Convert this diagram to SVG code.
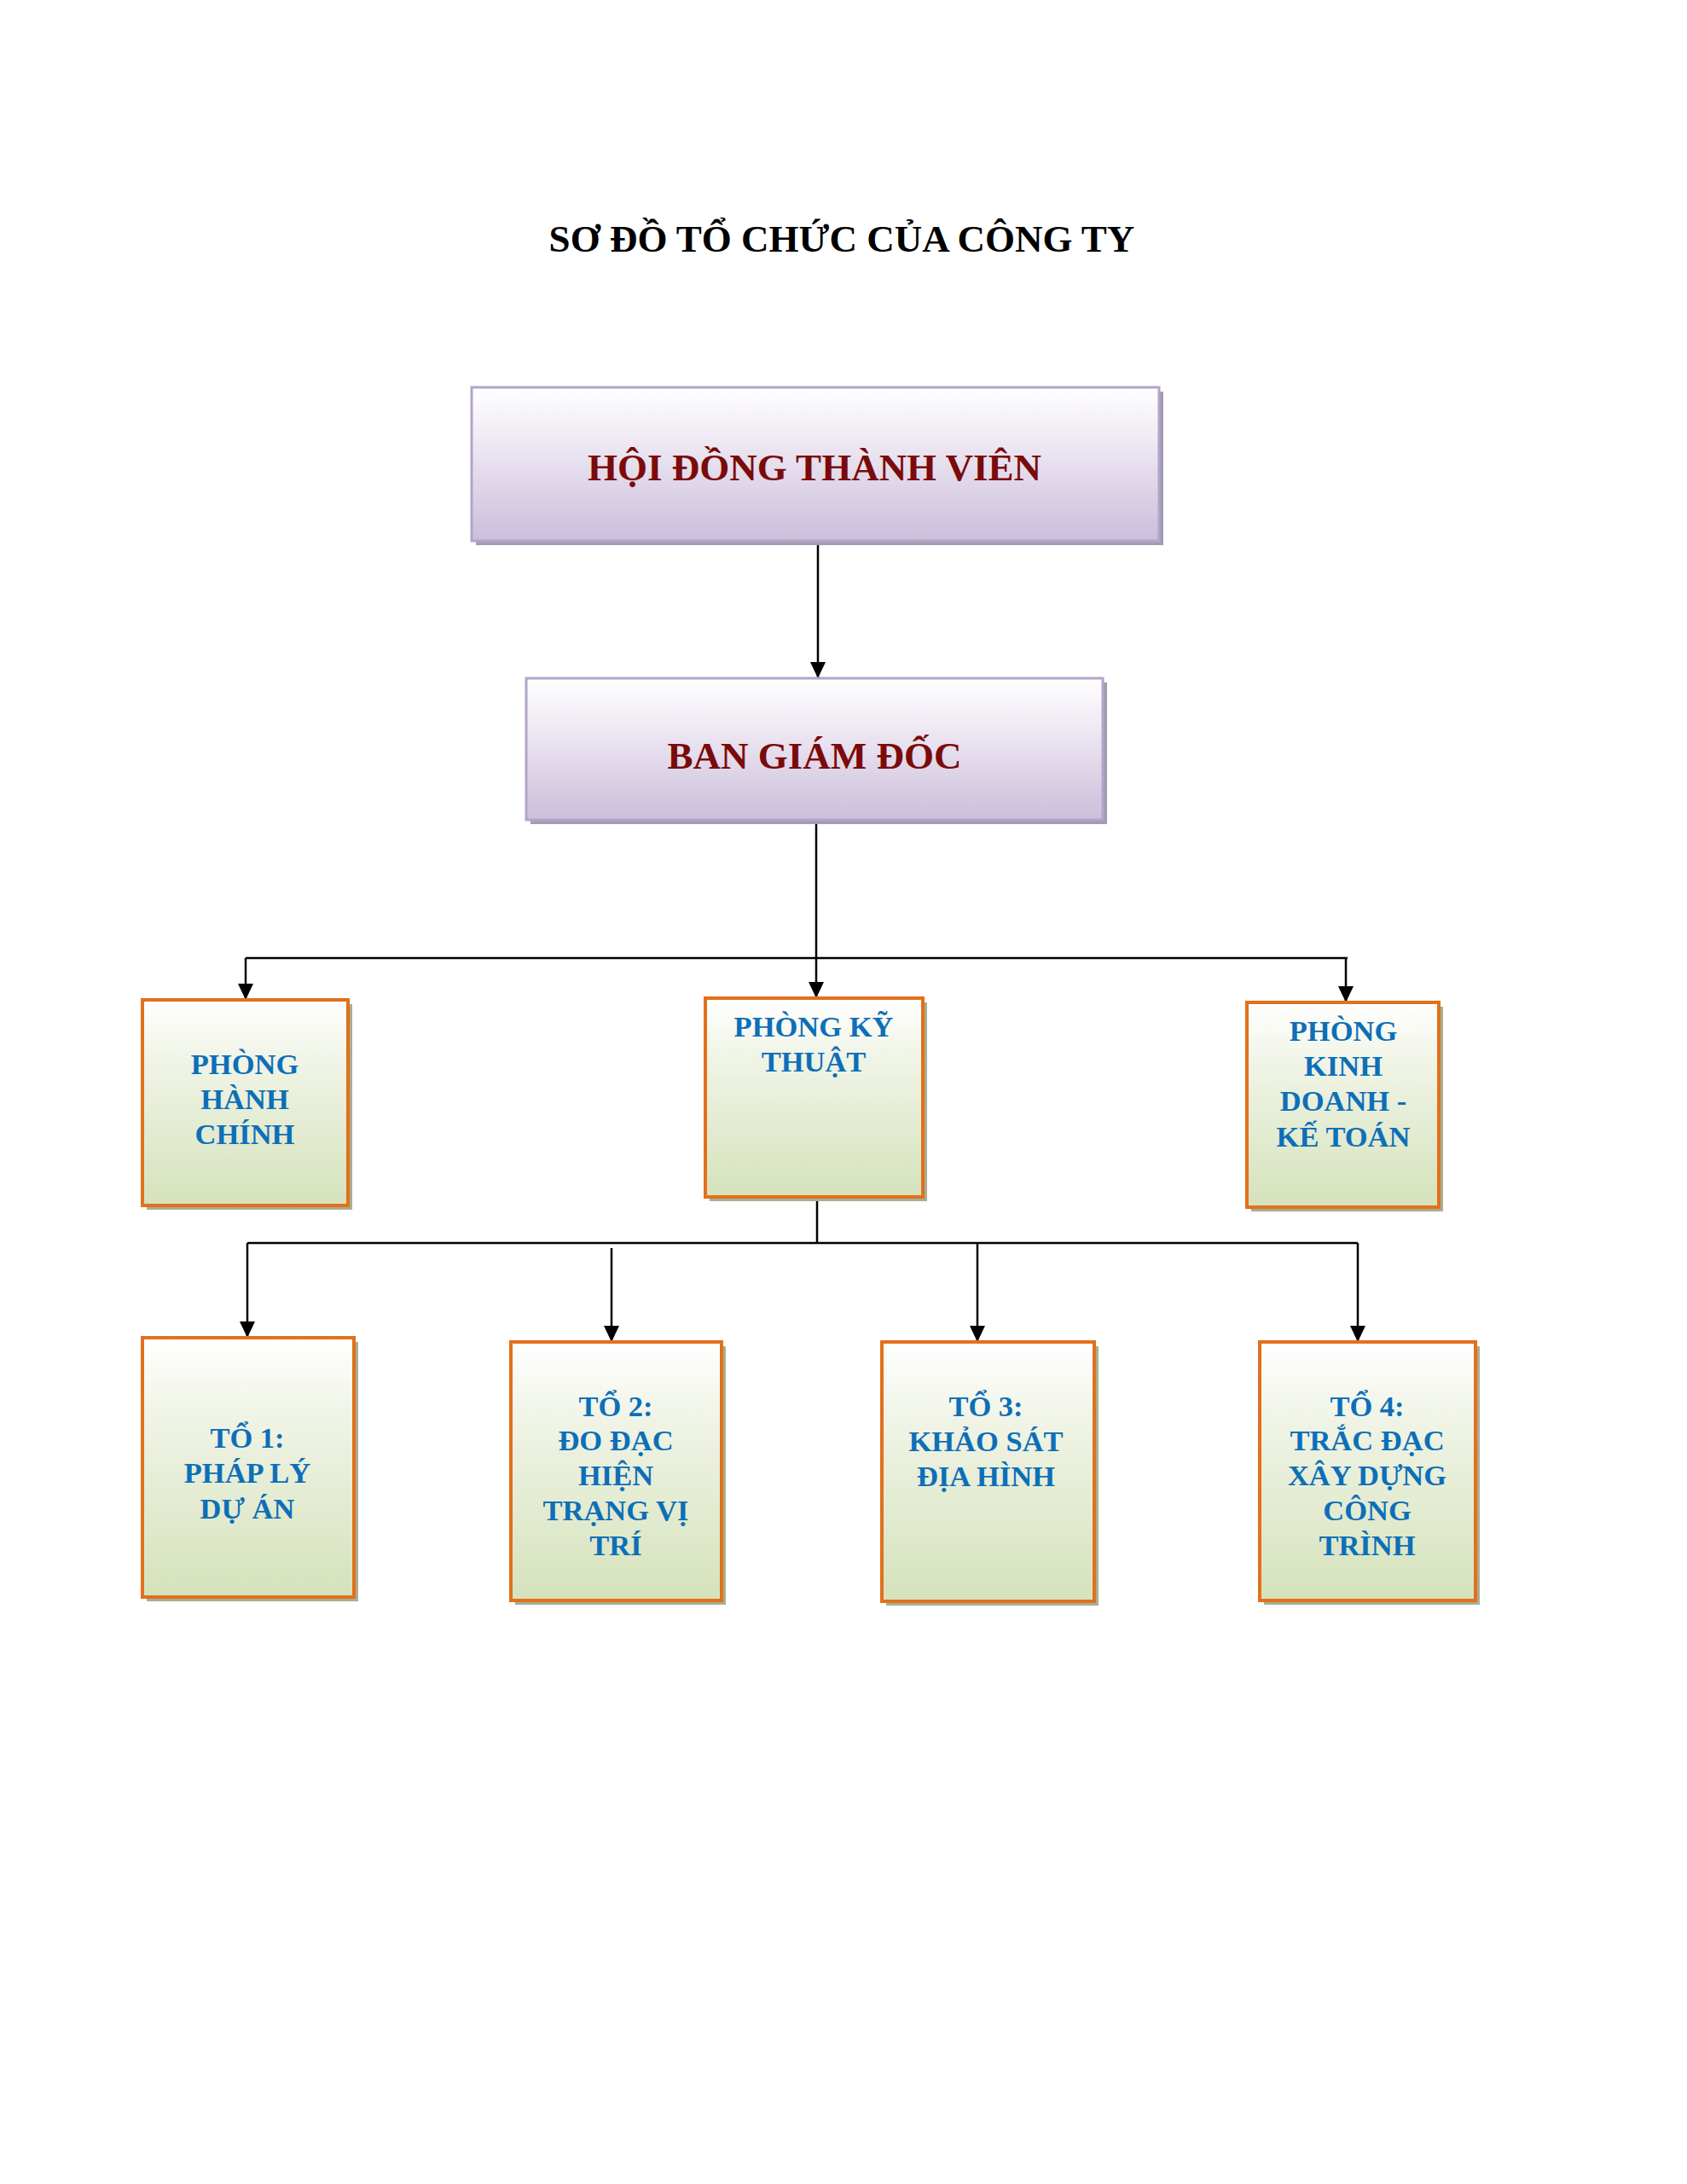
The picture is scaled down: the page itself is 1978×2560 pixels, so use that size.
<svg xmlns="http://www.w3.org/2000/svg" width="1978" height="2560" viewBox="0 0 1978 2560">
<defs>
<linearGradient id="gPurple" x1="0" y1="0" x2="0" y2="1">
<stop offset="0" stop-color="#ffffff"/>
<stop offset="0.3" stop-color="#f1ecf5"/>
<stop offset="1" stop-color="#cbbedb"/>
</linearGradient>
<linearGradient id="gGreen" x1="0" y1="0" x2="0" y2="1">
<stop offset="0" stop-color="#ffffff"/>
<stop offset="0.3" stop-color="#f0f4e6"/>
<stop offset="1" stop-color="#d5e2bb"/>
</linearGradient>
<marker id="arrow" viewBox="0 0 19 18" refX="19" refY="9" markerWidth="19" markerHeight="18" markerUnits="userSpaceOnUse" orient="auto">
<path d="M0,0 L19,9 L0,18 z" fill="#000"/>
</marker>
</defs>
<style>
.title{font-family:"Liberation Serif","Times New Roman",serif;font-weight:bold;font-size:45px;fill:#000;text-anchor:middle}
.top{font-family:"Liberation Serif","Times New Roman",serif;font-weight:bold;font-size:45px;fill:#7b0a0a;text-anchor:middle}
.dept{font-family:"Liberation Serif","Times New Roman",serif;font-weight:bold;font-size:34.5px;fill:#0d6fb8;text-anchor:middle}
.pbox{fill:url(#gPurple);stroke:#b3a5c9;stroke-width:3}
.pshadow{fill:#a39bb5}
.gbox{fill:url(#gGreen);stroke:#e2701c;stroke-width:4}
.gshadow{fill:#a8ae92}
.conn{fill:none;stroke:#000;stroke-width:2.5}
</style>
<rect width="1978" height="2560" fill="#ffffff"/>
<text class="title" x="987" y="295">SƠ ĐỒ TỔ CHỨC CỦA CÔNG TY</text>

<g id="connectors">
<path class="conn" d="M959,636 L959,795" marker-end="url(#arrow)"/>
<path class="conn" d="M957,963 L957,1170" marker-end="url(#arrow)"/>
<path class="conn" d="M288,1123 L1580,1123"/>
<path class="conn" d="M288,1123 L288,1172" marker-end="url(#arrow)"/>
<path class="conn" d="M1578,1123 L1578,1175" marker-end="url(#arrow)"/>
<path class="conn" d="M958,1404 L958,1457"/>
<path class="conn" d="M290,1457 L1592,1457"/>
<path class="conn" d="M290,1457 L290,1568" marker-end="url(#arrow)"/>
<path class="conn" d="M717,1463 L717,1573" marker-end="url(#arrow)"/>
<path class="conn" d="M1146,1457 L1146,1573" marker-end="url(#arrow)"/>
<path class="conn" d="M1592,1457 L1592,1573" marker-end="url(#arrow)"/>
</g>

<g id="hoi-dong-thanh-vien">
<rect class="pshadow" x="558" y="459" width="806" height="180"/>
<rect class="pbox" x="553" y="454" width="806" height="180"/>
<text class="top" x="955" y="563">HỘI ĐỒNG THÀNH VIÊN</text>
</g>

<g id="ban-giam-doc">
<rect class="pshadow" x="622" y="800" width="676" height="166"/>
<rect class="pbox" x="617" y="795" width="676" height="166"/>
<text class="top" x="955" y="901">BAN GIÁM ĐỐC</text>
</g>

<g id="phong-hanh-chinh">
<rect class="gshadow" x="172" y="1177" width="241" height="241"/>
<rect class="gbox" x="167" y="1172" width="241" height="241"/>
<text class="dept" x="287" y="1259">PHÒNG</text>
<text class="dept" x="287" y="1300">HÀNH</text>
<text class="dept" x="287" y="1341">CHÍNH</text>
</g>

<g id="phong-ky-thuat">
<rect class="gshadow" x="832" y="1175" width="255" height="233"/>
<rect class="gbox" x="827" y="1170" width="255" height="233"/>
<text class="dept" x="954" y="1215">PHÒNG KỸ</text>
<text class="dept" x="954" y="1256">THUẬT</text>
</g>

<g id="phong-kinh-doanh-ke-toan">
<rect class="gshadow" x="1467" y="1180" width="225" height="240"/>
<rect class="gbox" x="1462" y="1175" width="225" height="240"/>
<text class="dept" x="1575" y="1220">PHÒNG</text>
<text class="dept" x="1575" y="1261">KINH</text>
<text class="dept" x="1575" y="1302">DOANH -</text>
<text class="dept" x="1575" y="1344">KẾ TOÁN</text>
</g>

<g id="to-1">
<rect class="gshadow" x="172" y="1573" width="248" height="304"/>
<rect class="gbox" x="167" y="1568" width="248" height="304"/>
<text class="dept" x="290" y="1697">TỔ 1:</text>
<text class="dept" x="290" y="1738">PHÁP LÝ</text>
<text class="dept" x="290" y="1780">DỰ ÁN</text>
</g>

<g id="to-2">
<rect class="gshadow" x="604" y="1578" width="247" height="303"/>
<rect class="gbox" x="599" y="1573" width="247" height="303"/>
<text class="dept" x="722" y="1660">TỔ 2:</text>
<text class="dept" x="722" y="1700">ĐO ĐẠC</text>
<text class="dept" x="722" y="1741">HIỆN</text>
<text class="dept" x="722" y="1782">TRẠNG VỊ</text>
<text class="dept" x="722" y="1823">TRÍ</text>
</g>

<g id="to-3">
<rect class="gshadow" x="1039" y="1578" width="249" height="304"/>
<rect class="gbox" x="1034" y="1573" width="249" height="304"/>
<text class="dept" x="1156" y="1660">TỔ 3:</text>
<text class="dept" x="1156" y="1701">KHẢO SÁT</text>
<text class="dept" x="1156" y="1742">ĐỊA HÌNH</text>
</g>

<g id="to-4">
<rect class="gshadow" x="1482" y="1578" width="253" height="303"/>
<rect class="gbox" x="1477" y="1573" width="253" height="303"/>
<text class="dept" x="1603" y="1660">TỔ 4:</text>
<text class="dept" x="1603" y="1700">TRẮC ĐẠC</text>
<text class="dept" x="1603" y="1741">XÂY DỰNG</text>
<text class="dept" x="1603" y="1782">CÔNG</text>
<text class="dept" x="1603" y="1823">TRÌNH</text>
</g>
</svg>
